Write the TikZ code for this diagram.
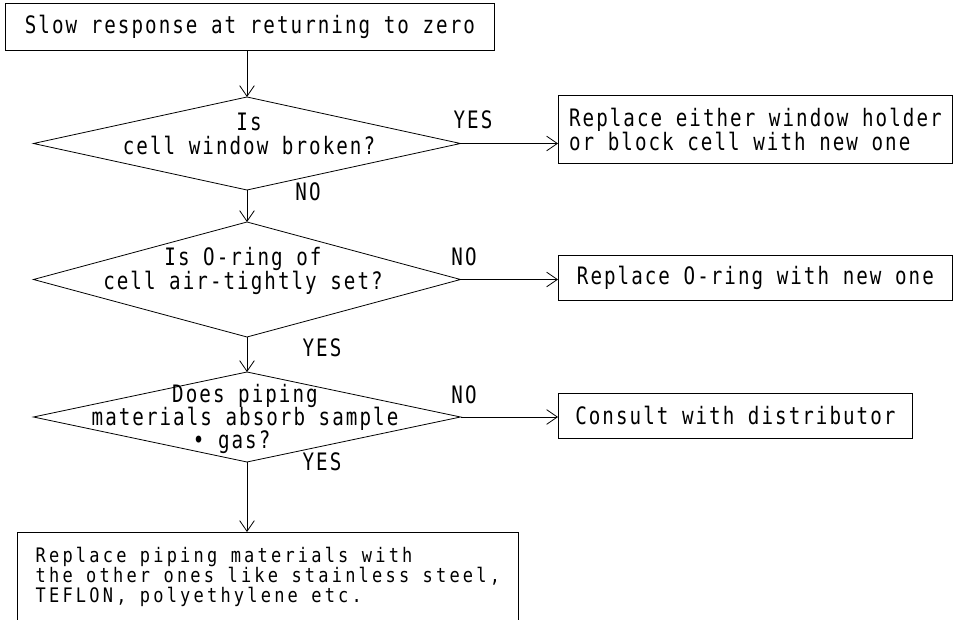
\documentclass[tikz,border=0pt]{standalone}
\usepackage{fontspec}
\newfontfamily\jisfont[FakeStretch=0.8,LetterSpace=8.5]{DejaVu Sans Mono}
\newfontfamily\jisfontb[FakeStretch=0.85,LetterSpace=16]{DejaVu Sans Mono}
\newcommand\jis[1]{\jisfont\fontsize{18}{#1}\selectfont\lineskiplimit=-30pt\relax}
\usetikzlibrary{shapes.geometric,arrows.meta}

\begin{document}
\begin{tikzpicture}[x=0.75pt,y=-0.75pt,line width=0.6pt,
  >={Straight Barb[length=8pt,width=11pt]},
  outbox/.style={draw,anchor=north west,align=left,inner sep=0pt,font=\jis{18}},
  dia/.style={draw,diamond,inner sep=0pt,outer sep=0pt,minimum width=320.25pt},
  ask/.style={align=center,inner sep=0pt,font=\jis{17.5}},
  ans/.style={inner sep=0pt,font=\jis{18}}]
  \useasboundingbox (0,0) rectangle (954,620);
  \clip (0,0) rectangle (954,620);
  % start
  \node[outbox,minimum width=366.75pt,minimum height=35.25pt] (start) at (5,3) {Slow response at returning to zero};
  % questions
  \foreach \n/\y/\h in {d1/143.5/69.75,d2/279.5/86.25,d3/417/67.5}
    \node[dia,minimum height=\h pt] (\n) at (247,\y) {};
  \node[ask] (q1) at (249,134) {Is\\cell window broken?};
  \node[ask] (q2) at (243,271) {Is O-ring of\\cell air-tightly set?};
  \node[ask] (q3) at (245,419) {Does piping\\materials absorb sample\\• gas?\hspace*{20pt}};
  % remedies
  \node[outbox,minimum width=295.5pt,minimum height=51pt] (r1) at (558,95) {Replace either window holder\\or block cell with new one};
  \node[outbox,minimum width=295.5pt,minimum height=33.75pt] (r2) at (558,255) {Replace O-ring with new one};
  \node[outbox,minimum width=265.5pt,minimum height=33.75pt] (r3) at (558,393) {Consult with distributor};
  \node[outbox,minimum width=375.75pt,inner ysep=11pt,font=\jisfontb\fontsize{15}{15}\selectfont] (fix) at (17,532) {Replace piping materials with\\the other ones like stainless steel,\\TEFLON, polyethylene etc.\\\mbox{}};
  % answers
  \foreach \n/\x/\y/\t in {yes1/473/120/YES,no1/308/192/NO,no2/464/257/NO,yes2/322/348/YES,no3/464/395/NO,yes3/322/462/YES}
    \node[ans] (\n) at (\x,\y) {\t};
  % arrows
  \draw[->] (d1.north |- start.south) -- (d1.north);
  \draw[->] (d1.east) -- (d1.east -| r1.west);
  \draw[->] (d1.south) -- (d2.north);
  \draw[->] (d2.east) -- (d2.east -| r2.west);
  \draw[->] (d2.south) -- (d3.north);
  \draw[->] (d3.east) -- (d3.east -| r3.west);
  \draw[->] (d3.south) -- (d3.south |- fix.north);
\end{tikzpicture}
\end{document}
